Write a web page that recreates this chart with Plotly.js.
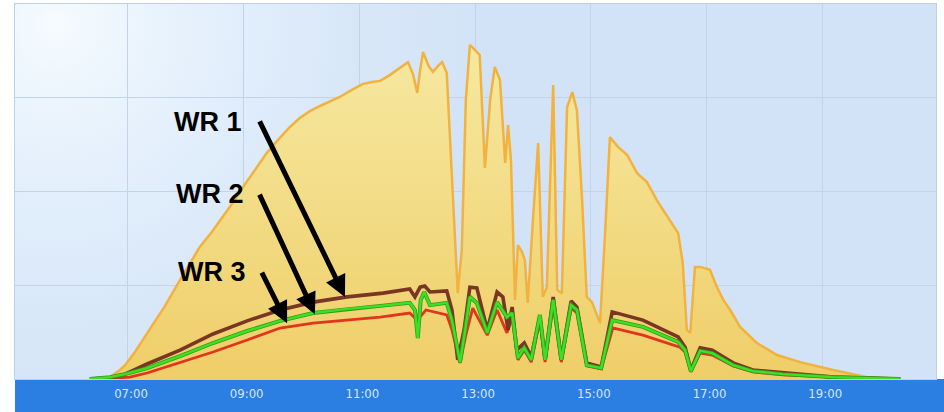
<!DOCTYPE html>
<html>
<head>
<meta charset="utf-8">
<script src="https://cdn.plot.ly/plotly-3.0.1.min.js"></script>
<style>
  html, body { margin: 0; padding: 0; background: #ffffff; }
  #chart { width: 944px; height: 412px; }
</style>
</head>
<body>
<div id="chart"></div>
<script>
// ---- data (time in decimal hours, values in % of scale) ----
const tickHours = [7, 9, 11, 13, 15, 17, 19];
const tickLabels = ["07:00", "09:00", "11:00", "13:00", "15:00", "17:00", "19:00"];

const sunHours = [6.52,6.69,6.86,6.95,7.12,7.29,7.47,7.64,7.85,8.07,8.24,8.45,8.64,8.82,8.99,9.20,9.40,9.59,9.80,9.97,10.15,10.32,10.49,10.66,10.87,11.06,11.22,11.36,11.53,11.70,11.84,11.93,12.00,12.05,12.10,12.19,12.27,12.36,12.43,12.51,12.60,12.70,12.77,12.84,12.91,13.00,13.08,13.17,13.26,13.34,13.43,13.52,13.57,13.62,13.69,13.74,13.81,13.86,13.91,14.00,14.09,14.17,14.24,14.35,14.42,14.50,14.59,14.68,14.76,14.85,14.93,15.02,15.16,15.25,15.33,15.47,15.63,15.80,15.97,16.14,16.37,16.51,16.59,16.66,16.72,16.80,16.89,17.06,17.18,17.29,17.41,17.58,17.87,18.22,18.62,19.19,19.78,20.09];
const sunVals = [0,0.5,2.4,3.7,7.2,11.2,15.2,19.5,25.1,30.9,35.2,39.2,43.2,47.2,51.2,55.7,60.3,63.7,67.2,69.6,71.5,72.8,74.1,75.2,77.1,78.7,79.2,79.5,81.1,82.9,84.5,81.1,76.3,82.4,87.2,83.7,81.9,83.5,84.5,81.6,53.1,22.9,34.4,74.4,89.1,87.7,86.4,56.3,74.4,83.2,79.7,57.6,67.7,58.4,21.1,35.7,33.9,31.7,20.3,42.4,62.9,21.9,24.5,78.4,23.7,22.9,72.5,76.5,71.7,47.7,21.9,20.5,14.9,39.7,64.5,61.9,59.7,54.9,52.5,47.7,42.4,38.9,30.9,13.1,12.3,29.9,29.9,29.1,24.5,21.1,18.4,13.9,9.6,6.4,4.5,2.4,0.5,0];

const wr1Hours = [6.34,6.69,6.95,7.33,7.90,8.47,9.06,9.63,10.20,10.79,11.41,11.87,11.96,12.05,12.13,12.22,12.51,12.60,12.70,12.81,12.91,13.03,13.21,13.38,13.48,13.57,13.64,13.72,13.85,13.97,14.12,14.21,14.35,14.49,14.66,14.76,14.93,15.18,15.37,15.90,16.51,16.63,16.73,16.89,17.10,17.46,17.80,18.32,19.19,20.35];
const wr1Vals = [0,0.3,1.3,4.0,7.7,12.0,15.5,18.4,20.5,21.9,22.9,24.0,21.9,24.5,24.8,23.2,23.5,18.4,5.1,13.1,24.5,24.3,13.1,23.2,21.9,13.1,19.2,7.7,9.6,5.9,16.5,5.1,21.9,5.1,20.8,19.2,4.3,3.2,17.9,15.7,11.2,8.5,2.4,8.3,7.7,4.3,2.4,1.6,0.5,0];

const wr2Hours = [6.34,6.69,6.95,7.33,7.90,8.47,9.06,9.63,10.20,10.79,11.36,11.87,11.96,12.01,12.06,12.12,12.22,12.51,12.60,12.74,12.83,12.91,13.03,13.21,13.38,13.55,13.64,13.74,13.85,13.97,14.12,14.21,14.35,14.49,14.66,14.76,14.93,15.18,15.37,15.90,16.51,16.63,16.73,16.89,17.10,17.46,17.80,18.32,19.19,20.35];
const wr2Vals = [0,0.5,1.3,2.9,6.1,9.6,12.8,15.5,17.6,18.7,19.5,20.3,18.4,10.9,21.1,23.2,19.7,20.3,15.7,4.5,13.1,21.9,20.3,12.3,20.5,16.5,17.6,5.6,8.3,5.1,17.1,5.1,21.1,5.1,19.7,18.4,3.7,2.9,15.7,13.9,9.9,7.7,2.1,7.5,6.9,3.7,2.1,1.3,0.5,0];

const wr3Hours = [6.52,7.03,7.33,7.90,8.47,9.06,9.63,10.20,10.79,11.36,11.87,12.00,12.15,12.51,12.60,12.74,12.84,12.96,13.21,13.38,13.55,13.64,13.74,13.85,13.97,14.12,14.21,14.35,14.49,14.66,14.76,14.93,15.18,15.38,15.90,16.54,16.63,16.73,16.89,17.10,17.46,17.80,18.32,19.19,20.35];
const wr3Vals = [0,0.5,1.6,4.3,7.2,10.4,13.6,14.9,15.7,16.5,17.6,15.7,18.4,17.1,13.1,4.3,11.7,18.9,11.7,18.4,12.3,16.3,5.1,7.7,4.5,15.7,4.5,19.7,4.5,18.9,17.6,3.5,2.7,13.6,11.7,8.5,7.2,1.9,6.9,6.4,3.5,1.9,1.1,0.5,0];

const wrLabels = ["WR 1", "WR 2", "WR 3"];

// ---- traces ----
const traces = [
  {
    x: sunHours, y: sunVals, type: "scatter", mode: "lines",
    fill: "tozeroy",
    fillgradient: { type: "vertical", start: 0, stop: 90,
      colorscale: [[0, "#efce68"], [1, "#f6e9a2"]] },
    line: { color: "#f2b240", width: 2.5 },
    hoverinfo: "skip"
  },
  { x: wr3Hours, y: wr3Vals, type: "scatter", mode: "lines",
    line: { color: "#e3341c", width: 2.8 }, hoverinfo: "skip" },
  { x: wr1Hours, y: wr1Vals, type: "scatter", mode: "lines",
    line: { color: "#7a3624", width: 3.6 }, hoverinfo: "skip" },
  { x: wr2Hours, y: wr2Vals, type: "scatter", mode: "lines",
    line: { color: "#2f9e1c", width: 4 }, hoverinfo: "skip" },
  { x: wr2Hours, y: wr2Vals, type: "scatter", mode: "lines",
    line: { color: "#3ee024", width: 2.4 }, hoverinfo: "skip" }
];

const bgSvg = "<svg xmlns='http://www.w3.org/2000/svg' width='921' height='375' viewBox='0 0 921 375' preserveAspectRatio='none'>" +
  "<defs><radialGradient id='g' gradientUnits='userSpaceOnUse' cx='40' cy='20' r='430'>" +
  "<stop offset='0' stop-color='#f5fbff'/><stop offset='0.3' stop-color='#e6f1fc'/>" +
  "<stop offset='0.7' stop-color='#d8e7f8'/><stop offset='1' stop-color='#d3e3f7'/></radialGradient></defs>" +
  "<rect width='921' height='375' fill='url(#g)'/></svg>";

const labelFont = { family: "Liberation Sans, Arial, sans-serif", size: 27, color: "#000000", weight: "bold" };
const arrowCommon = { showarrow: true, arrowhead: 2, arrowsize: 0.85, arrowwidth: 5, arrowcolor: "#000000", text: "", standoff: 0, startstandoff: 0 };

const layout = {
  width: 944, height: 412,
  margin: { l: 15, r: 8, t: 4, b: 33 },
  paper_bgcolor: "#ffffff",
  plot_bgcolor: "#d4e4f7",
  showlegend: false,
  xaxis: {
    range: [5.047, 20.967],
    tickvals: tickHours, ticktext: tickLabels,
    showgrid: true, gridcolor: "#c3d4e8", gridwidth: 1,
    zeroline: false, ticks: "",
    showline: true, mirror: true, linecolor: "#bdd0e6", linewidth: 1,
    tickfont: { family: "DejaVu Sans Condensed, DejaVu Sans, Verdana, sans-serif", size: 13, color: "#d2e5fa" },
    ticklabelshift: 3, ticklabelstandoff: 2,
    fixedrange: true
  },
  yaxis: {
    range: [0, 100], dtick: 25, tick0: 0,
    showgrid: true, gridcolor: "#c3d4e8", gridwidth: 1,
    showticklabels: false, zeroline: false, ticks: "",
    showline: true, mirror: true, linecolor: "#bdd0e6", linewidth: 1,
    fixedrange: true
  },
  images: [{
    source: "data:image/svg+xml;charset=utf-8," + encodeURIComponent(bgSvg),
    xref: "paper", yref: "paper", x: 0, y: 1, sizex: 1, sizey: 1,
    xanchor: "left", yanchor: "top", sizing: "stretch", layer: "below"
  }],
  shapes: [{
    type: "rect", xref: "paper", yref: "paper",
    x0: 0, x1: 929 / 921, y0: -33 / 375, y1: 0,
    fillcolor: "#2b7fe2", line: { width: 0 }, layer: "below"
  }],
  annotations: [
    { x: 8.38, y: 68.5, xref: "x", yref: "y", text: wrLabels[0], showarrow: false, font: labelFont },
    { x: 8.42, y: 49.3, xref: "x", yref: "y", text: wrLabels[1], showarrow: false, font: labelFont },
    { x: 8.45, y: 28.5, xref: "x", yref: "y", text: wrLabels[2], showarrow: false, font: labelFont },
    Object.assign({ x: 10.75, y: 21.9, xref: "x", yref: "y", ax: -86, ay: -177 }, arrowCommon),
    Object.assign({ x: 10.23, y: 17.3, xref: "x", yref: "y", ax: -56, ay: -121 }, arrowCommon),
    Object.assign({ x: 9.75, y: 14.9, xref: "x", yref: "y", ax: -26, ay: -52 }, arrowCommon)
  ]
};

Plotly.newPlot("chart", traces, layout, { staticPlot: true, displayModeBar: false });
</script>
</body>
</html>
